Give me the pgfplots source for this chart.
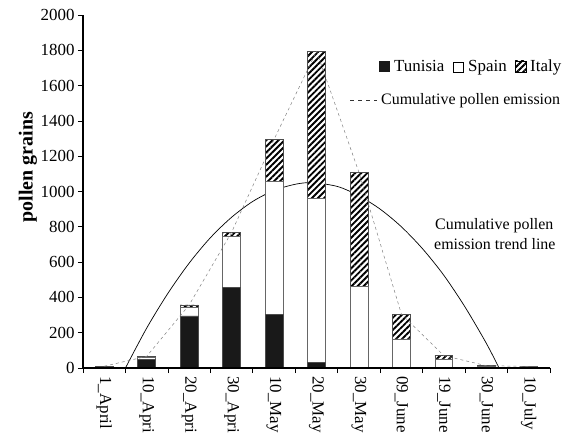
\documentclass[border=0pt]{standalone}
\usepackage{pgfplots}
\pgfplotsset{compat=1.18}
\usepackage{pgfplotstable}
\usepackage{fontspec}
\setmainfont{Liberation Serif}
\usetikzlibrary{patterns.meta}

\pgfplotstableread{
x  tun  spa  ita  tot
0  10   0    0    10
1  50   8    8    66
2  295  50   12   357
3  457  290  22   769
4  305  750  240  1295
5  30   930  835  1795
6  3    458  647  1108
7  0    165  140  305
8  0    52   18   70
9  2    6    5    13
10 2    4    3    9
}\datatable

\pgfplotstableread{
x    y
0.5  0
1.0  226
1.5  423
2.0  594
2.5  738
3.0  854
3.5  944
4.0  1006
4.5  1041
4.9  1050
5.5  1028
6.0  975
6.5  900
7.0  800
7.5  675
8.0  525
8.5  345
9.0  140
9.3  0
}\trendtable

\pgfplotsset{
  common/.style={
    scale only axis, width=467bp, height=353bp,
    xmin=-0.5, xmax=10.5, ymin=0, ymax=2000, clip=false,
  },
}
\tikzset{hatch/.style={pattern={Lines[angle=45,distance=4.3bp,line width=1.9bp]}}}

\begin{document}
\begin{tikzpicture}
% trend line (behind bars)
\begin{axis}[common, hide axis]
\addplot[black, line width=0.7pt, smooth] table[x=x,y=y] {\trendtable};
\end{axis}
% stacked bars
\begin{axis}[common, hide axis, ybar stacked, bar width=0.42]
\addplot[fill=black!90, draw=black!70, line width=0.6pt] table[x=x,y=tun] {\datatable};
\addplot[fill=white, draw=black!60, line width=0.6pt] table[x=x,y=spa] {\datatable};
\addplot[fill=white, draw=black!70, line width=0.6pt, postaction={hatch}] table[x=x,y=ita] {\datatable};
\end{axis}
% cumulative line and axes
\begin{axis}[common,
  axis x line*=bottom, axis y line*=left,
  axis line style={-, line width=1.1pt},
  tick align=outside,
  ytick={0,200,...,2000},
  yticklabel style={font=\fontsize{17}{20}\selectfont, /pgf/number format/set thousands separator={}},
  /pgf/number format/assume math mode=true,
  major tick length=5bp,
  xtick={0,...,10},
  xticklabels={1\_April,10\_Apri,20\_Apri,30\_Apri,10\_May,20\_May,30\_May,09\_June,19\_June,30\_June,10\_July},
  x tick label style={rotate=-90, anchor=west, font=\fontsize{17}{20}\selectfont},
  major x tick style={draw=none},
  minor xtick={-0.5,0.5,...,10.5},
  minor tick length=5bp,
  tick style={black, line width=0.8pt},
  ylabel={\bfseries pollen grains},
  every axis y label/.style={at={(axis description cs:-0.118,0.569)}, rotate=90, anchor=center, font=\fontsize{20}{24}\selectfont},
]
\addplot[gray, dashed, line width=0.5pt] table[x=x,y=tot] {\datatable};
\end{axis}
% legend
\begin{scope}[font=\fontsize{17}{20}\selectfont]
\fill[black!90] (296bp,296bp) rectangle (307bp,307bp);
\node[anchor=base west, inner sep=0pt] at (311bp,296bp) {Tunisia};
\draw[black, line width=0.6pt, fill=white] (370bp,296bp) rectangle (380bp,306bp);
\node[anchor=base west, inner sep=0pt] at (385bp,296bp) {Spain};
\draw[black, line width=0.6pt, hatch] (432bp,296bp) rectangle (443bp,307bp);
\draw[black, line width=0.6pt] (432bp,296bp) rectangle (443bp,307bp);
\node[anchor=base west, inner sep=0pt] at (447bp,296bp) {Italy};
\end{scope}
\begin{scope}[font=\fontsize{16}{19}\selectfont]
\draw[black!80, line width=0.7pt, dash pattern=on 4bp off 4bp] (267bp,268bp) -- (294bp,268bp);
\node[anchor=base west, inner sep=0pt] at (298bp,263bp) {Cumulative pollen emission};
\node[anchor=base west, inner sep=0pt] at (352bp,138bp) {Cumulative pollen};
\node[anchor=base west, inner sep=0pt] at (351bp,118bp) {emission trend line};
\end{scope}
\pgfresetboundingbox
\path[use as bounding box] (-83bp,-69bp) rectangle (479bp,368bp);
\end{tikzpicture}
\end{document}
